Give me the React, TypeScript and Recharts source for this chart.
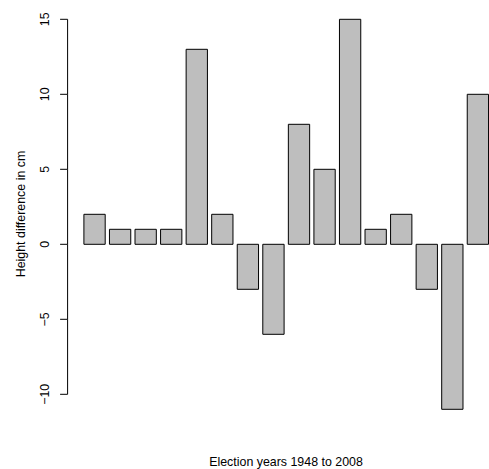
import React from 'react';
import { BarChart, Bar, XAxis, YAxis, Customized } from 'recharts';

const years = ['1948', '1952', '1956', '1960', '1964', '1968', '1972', '1976', '1980', '1984', '1988', '1992', '1996', '2000', '2004', '2008'];
const heightDiff = [2, 1, 1, 1, 13, 2, -3, -6, 8, 5, 15, 1, 2, -3, -11, 10];
const yTicks = [-10, -5, 0, 5, 10, 15];
const xLabel = 'Election years 1948 to 2008';
const yLabel = 'Height difference in cm';

const data = years.map((y, i) => ({ year: y, diff: heightDiff[i] }));

const CHART_W = 492;
const CHART_H = 469;
const M_TOP = 3.7;
const M_BOTTOM = 44.1;
const Y_DOMAIN: [number, number] = [-12.04, 16.04];
const PLOT_H = CHART_H - M_TOP - M_BOTTOM;
const PX_PER_UNIT = PLOT_H / (Y_DOMAIN[1] - Y_DOMAIN[0]);
const AXIS_X = 67.6;
const FONT = '"Liberation Sans", Arial, Helvetica, sans-serif';
const FS = 12.4;

const fmt = (v: number) => (v < 0 ? '\u2212' + Math.abs(v) : String(v));

const YTick = (props: any) => {
  const { y, payload } = props;
  const v = payload.value as number;
  const step = 5 * PX_PER_UNIT;
  const lx = 49.5;
  return (
    <g>
      <line x1={AXIS_X - 7.5} x2={AXIS_X} y1={y} y2={y} stroke="#000" strokeWidth={1} />
      {v < yTicks[yTicks.length - 1] && (
        <line x1={AXIS_X} x2={AXIS_X} y1={y} y2={y - step} stroke="#000" strokeWidth={1} />
      )}
      <text
        x={lx}
        y={y}
        transform={`rotate(-90 ${lx} ${y})`}
        textAnchor="middle"
        fontSize={FS}
        fontFamily={FONT}
        fill="#000"
      >
        {fmt(v)}
      </text>
    </g>
  );
};

const Labels = () => (
  <g>
    <text x={286} y={466} textAnchor="middle" fontSize={FS} fontFamily={FONT} fill="#000">
      {xLabel}
    </text>
    <text
      x={24.5}
      y={214}
      transform="rotate(-90 24.5 214)"
      textAnchor="middle"
      fontSize={FS}
      fontFamily={FONT}
      fill="#000"
    >
      {yLabel}
    </text>
  </g>
);

export default function App() {
  return (
    <div style={{ position: 'absolute', left: 0, top: 0, width: 489, height: 469, overflow: 'hidden', background: '#fff' }}>
      <BarChart
        width={CHART_W}
        height={CHART_H}
        data={data}
        margin={{ top: M_TOP, right: 1.2, bottom: M_BOTTOM, left: 0 }}
      >
        <XAxis dataKey="year" hide />
        <YAxis
          width={81.9}
          domain={Y_DOMAIN}
          ticks={yTicks}
          axisLine={false}
          tickLine={false}
          tick={<YTick />}
          interval={0}
        />
        <Bar dataKey="diff" barSize={21.3} fill="#BEBEBE" stroke="#000" strokeWidth={1} isAnimationActive={false} />
        <Customized component={<Labels />} />
      </BarChart>
    </div>
  );
}
